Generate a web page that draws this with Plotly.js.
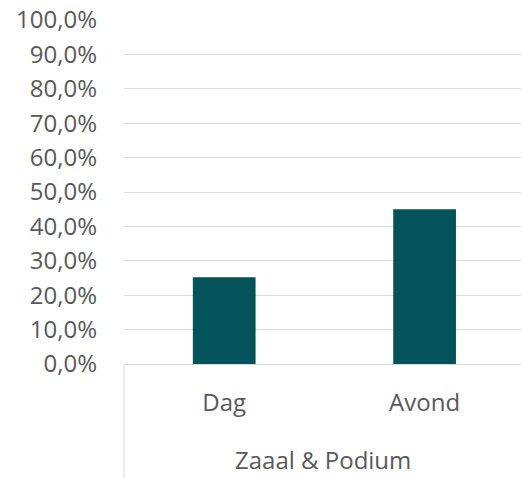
<!DOCTYPE html>
<html>
<head>
<meta charset="utf-8">
<script src="https://cdn.plot.ly/plotly-3.0.1.min.js"></script>
<style>html,body{margin:0;padding:0;background:#fff;}#chart{width:521px;height:478px;}</style>
</head>
<body>
<div id="chart"></div>
<script>
const categories = ["Dag", "Avond"];
const groupLabel = "Zaaal & Podium";
const values = [0.252, 0.450];
const yTickValues = [0, 0.1, 0.2, 0.3, 0.4, 0.5, 0.6, 0.7, 0.8, 0.9, 1.0];

const plotHeight = 344;
const bottomMargin = 114;

const trace = {
  type: "bar",
  x: categories,
  y: values,
  marker: { color: "#04525A" },
  width: 0.313,
  hoverinfo: "skip"
};

const layout = {
  width: 521,
  height: 478,
  margin: { l: 124, r: 0, t: 20, b: bottomMargin },
  paper_bgcolor: "#ffffff",
  plot_bgcolor: "#ffffff",
  separators: ", ",
  font: { family: "Open Sans, sans-serif", size: 24, color: "#595959" },
  showlegend: false,
  xaxis: {
    type: "category",
    range: [-0.5, 1.481],
    showgrid: false,
    zeroline: false,
    showline: false,
    ticks: "",
    ticklabelstandoff: 22,
    tickfont: { size: 24, color: "#595959" }
  },
  yaxis: {
    range: [0, 1],
    tickvals: yTickValues,
    tickformat: ".1%",
    showgrid: true,
    gridcolor: "#d9d9d9",
    gridwidth: 1,
    zeroline: true,
    zerolinecolor: "#d9d9d9",
    zerolinewidth: 1,
    showline: false,
    ticks: "",
    ticklabelstandoff: 26,
    tickfont: { size: 24, color: "#595959" }
  },
  annotations: [{
    text: groupLabel,
    xref: "paper", yref: "paper",
    x: 0.5, y: -(459 - 364) / plotHeight,
    xanchor: "center", yanchor: "middle",
    showarrow: false,
    font: { size: 24, color: "#595959" }
  }],
  shapes: [{
    type: "line",
    xref: "paper", yref: "paper",
    x0: 0, x1: 0, y0: 0, y1: -bottomMargin / plotHeight,
    line: { color: "#d9d9d9", width: 1 }
  }]
};

Plotly.newPlot("chart", [trace], layout, { staticPlot: true, displayModeBar: false });
</script>
</body>
</html>
